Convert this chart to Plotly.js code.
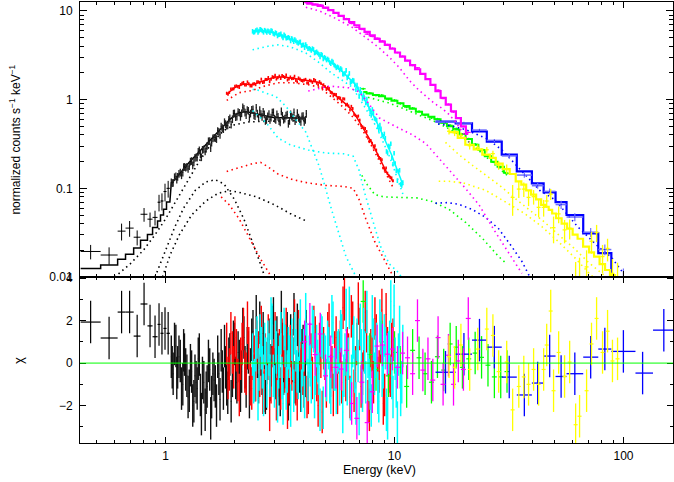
<!DOCTYPE html>
<html><head><meta charset="utf-8">
<script src="https://cdn.plot.ly/plotly-3.0.1.min.js"></script>
<style>html,body{margin:0;padding:0;background:#fff}#chart{width:674px;height:482px}</style>
</head><body><div id="chart"></div>
<script>
// ===== Dataset 1 (black): wide low-energy bins =====
const blackWideLo = [0.426,0.521,0.618,0.669,0.726,0.778,0.834,0.878,0.923,0.951,0.98,1.01];
const blackWideHi = [0.521,0.618,0.669,0.726,0.778,0.834,0.878,0.923,0.951,0.98,1.01,1.045];
const blackWideE = [0.471,0.567,0.643,0.697,0.752,0.806,0.856,0.9,0.937,0.965,0.995,1.027];
const blackWideData = [0.0194,0.0177,0.0329,0.0356,0.0281,0.051,0.0449,0.047,0.0697,0.072,0.092,0.1];
const blackWideErr = [0.0036,0.0039,0.0071,0.0072,0.0054,0.009,0.0084,0.0089,0.0148,0.0157,0.0208,0.0214];
const blackWideModel = [0.0125,0.0137,0.0159,0.0181,0.0212,0.026,0.0302,0.0361,0.0427,0.05,0.058,0.07];
const blackWideResid = [1.93,1.18,2.4,2.4,1.27,2.78,1.75,1.24,1.82,1.4,1.63,1.4];
// black dense bins (two interleaved groups)
const blackE = [1.06,1.08,1.11,1.13,1.16,1.19,1.21,1.24,1.27,1.30,1.33,1.36,1.39,1.42,1.45,1.49,1.52,1.56,1.59,1.63,
1.67,1.71,1.75,1.79,1.83,1.87,1.91,1.96,2.00,2.05,2.10,2.15,2.20,2.25,2.30,2.35,2.41,2.46,2.52,2.58,
2.64,2.70,2.76,2.83,2.89,2.96,3.03,3.10,3.17,3.24,3.32,3.40,3.48,3.56,3.64,3.72,3.81,3.90,3.99,4.08];
const blackData = [.117,.116,.137,.135,.151,.151,.175,.175,.179,.204,.197,.225,.259,.242,.273,.262,.302,.343,.329,.373,
.361,.434,.5,.467,.532,.514,.617,.604,.702,.647,.715,.705,.791,.674,.75,.7,.779,.656,.699,.765,
.642,.687,.593,.689,.631,.723,.596,.643,.558,.661,.613,.683,.578,.648,.722,.605,.63,.564,.655,.594];
const blackModel = [.115,.12,.13,.137,.15,.162,.17,.183,.197,.21,.225,.24,.255,.27,.287,.31,.327,.35,.37,.395,
.42,.45,.48,.51,.54,.57,.6,.63,.66,.69,.71,.725,.73,.73,.725,.715,.705,.695,.685,.675,
.665,.655,.647,.64,.635,.63,.627,.625,.623,.622,.622,.622,.622,.622,.622,.622,.621,.62,.62,.62];
const blackResid = [0.3,-0.5,0.8,-0.2,0.1,-1.0,0.4,-0.6,-1.3,-0.4,-1.8,-0.9,0.2,-1.5,-0.7,-2.2,-1.1,-0.3,-1.6,-0.8,
-2.0,-0.5,0.6,-1.2,-0.2,-1.4,0.4,-0.6,0.9,-0.9,0.1,-0.4,1.2,-1.1,0.5,-0.3,1.5,-0.8,0.3,1.9,
-0.5,0.7,-1.2,1.1,-0.1,2.1,-0.7,0.4,-1.5,0.9,-0.2,1.4,-1.0,0.6,2.3,-0.4,0.2,-1.3,0.8,-0.6];
const blackE2 = [1.07,1.095,1.12,1.145,1.175,1.20,1.225,1.255,1.285,1.315,1.345,1.375,1.405,1.435,1.47,1.505,1.54,1.575,1.61,1.65,
1.69,1.73,1.77,1.81,1.85,1.89,1.935,1.98,2.025,2.075,2.125,2.175,2.225,2.275,2.325,2.38,2.435,2.49,2.55,2.61,
2.67,2.73,2.795,2.86,2.925,2.995,3.065,3.135,3.205,3.28,3.36,3.44,3.52,3.60,3.68,3.765,3.855,3.945,4.035,4.12];
const blackData2 = [.115,.134,.126,.146,.141,.174,.172,.166,.201,.182,.221,.223,.27,.225,.277,.282,.341,.285,.367,.371,
.445,.402,.479,.559,.511,.594,.526,.697,.637,.728,.642,.82,.718,.768,.628,.772,.666,.811,.631,.691,
.734,.578,.653,.596,.718,.613,.686,.574,.741,.597,.662,.537,.687,.627,.577,.71,.6,.65,.565,.694];
const blackResid2 = [-0.2,0.9,-0.7,0.3,-1.2,0.6,-0.3,-1.6,-0.1,-2.0,-0.6,-1.2,0.4,-2.4,-0.9,-1.4,0.1,-2.6,-0.5,-1.1,
0.3,-1.7,-0.4,0.8,-1.0,0.2,-1.8,1.0,-0.7,0.5,-1.3,1.6,-0.2,0.7,-1.6,1.1,-0.6,2.2,-0.9,0.4,
1.4,-1.4,0.2,-0.8,1.7,-0.3,1.2,-1.0,2.4,-0.5,0.8,-1.7,1.3,0.1,-0.9,1.8,-0.4,0.6,-1.1,1.5];
const blackErrPct = 10;
const blackMainE = [0.6,0.7,0.8,0.9,1.0,1.1,1.2,1.4,1.6,1.8,2.0,2.3,2.7,3.2,3.7,4.1];
const blackMain = [0.010,0.014,0.020,0.030,0.045,0.068,0.10,0.20,0.33,0.45,0.52,0.56,0.57,0.575,0.578,0.58];
const blackCompAE = [0.9,1.0,1.1,1.2,1.35,1.5,1.65,1.8,2.0,2.2,2.4,2.6,2.75];
const blackCompA = [0.01,0.02,0.037,0.06,0.095,0.118,0.125,0.112,0.075,0.045,0.025,0.014,0.009];
const blackCompBE = [0.97,1.05,1.15,1.3,1.5,1.7,1.9,2.1,2.5,3.0,3.5,4.1];
const blackCompB = [0.01,0.018,0.03,0.05,0.072,0.088,0.094,0.09,0.08,0.065,0.052,0.043];

// ===== Dataset 2 (red) =====
const redE = [1.85,1.90,1.96,2.01,2.07,2.13,2.19,2.25,2.31,2.38,2.44,2.51,2.58,2.66,2.73,2.81,2.89,2.97,3.05,3.14,
3.23,3.32,3.41,3.51,3.61,3.71,3.81,3.92,4.03,4.15,4.26,4.38,4.51,4.64,4.77,4.90,5.04,5.18,5.33,5.48,
5.64,5.80,5.96,6.13,6.30,6.48,6.66,6.85,7.05,7.25,7.45,7.66,7.88,8.10,8.33,8.57,8.81,9.06,9.32,9.58,9.85];
const redData = [1.181,1.209,1.32,1.419,1.396,1.479,1.562,1.468,1.511,1.427,1.514,1.586,1.552,1.562,1.69,1.777,1.703,1.785,1.708,1.843,
1.87,1.778,1.668,1.802,1.74,1.649,1.756,1.645,1.66,1.542,1.653,1.566,1.647,1.476,1.534,1.47,1.305,1.339,1.193,1.147,
1.025,1.04,1.024,.869,.85,.84,.68,.647,.587,.493,.472,.369,.346,.292,.27,.222,.21,.16,.148,.133,.122];
const redModel = [1.15,1.22,1.30,1.37,1.43,1.47,1.49,1.49,1.48,1.48,1.50,1.54,1.58,1.63,1.67,1.71,1.75,1.78,1.80,1.81,
1.81,1.80,1.78,1.76,1.73,1.70,1.68,1.66,1.64,1.62,1.61,1.60,1.59,1.57,1.52,1.44,1.35,1.27,1.20,1.13,
1.07,1.01,0.95,0.89,0.84,0.78,0.71,0.63,0.56,0.50,0.44,0.39,0.34,0.30,0.26,0.225,0.195,0.168,0.145,0.135,0.118];
const redResid = [0.9,-0.3,0.5,1.2,-0.8,0.2,1.6,-0.5,0.7,-1.2,0.3,1.0,-0.6,-1.4,0.4,1.3,-0.9,0.1,-1.7,0.6,
1.1,-0.4,-2.1,0.8,0.2,-1.0,1.5,-0.3,0.4,-1.6,0.9,-0.7,1.2,-2.0,0.3,0.7,-1.1,1.8,-0.2,0.5,
-1.4,1.0,2.6,-0.8,0.4,2.2,-1.3,0.9,1.6,-0.5,2.4,-1.8,0.6,-0.9,1.3,-0.4,2.5,-1.5,0.7,-0.6,1.1];
const redE2 = [1.875,1.93,1.985,2.04,2.10,2.16,2.22,2.28,2.345,2.41,2.475,2.545,2.62,2.695,2.77,2.85,2.93,3.01,3.095,3.185,
3.275,3.365,3.46,3.56,3.66,3.76,3.865,3.975,4.09,4.205,4.32,4.445,4.575,4.705,4.835,4.97,5.11,5.255,5.405,5.56,
5.72,5.88,6.045,6.215,6.39,6.57,6.755,6.95,7.15,7.35,7.555,7.77,7.99,8.215,8.45,8.69,8.935,9.19,9.45,9.715];
const redData2 = [1.156,1.322,1.326,1.429,1.374,1.527,1.469,1.584,1.428,1.5,1.477,1.587,1.701,1.575,1.69,1.597,1.814,1.878,1.767,1.734,
1.824,1.89,1.714,1.727,1.835,1.589,1.705,1.621,1.693,1.536,1.627,1.69,1.536,1.594,1.361,1.405,1.374,1.209,1.104,1.146,
1.058,.949,1.017,.886,.765,.795,.665,.653,.51,.48,.437,.337,.323,.301,.237,.217,.17,.17,.138,.131];
const redResid2 = [-0.7,1.4,-0.2,0.6,-1.5,0.9,-0.4,1.9,-1.0,0.2,-0.8,0.5,1.7,-1.3,0.0,-2.2,0.8,1.4,-0.6,-1.2,
0.3,1.6,-0.9,-0.3,2.0,-1.7,0.6,-0.5,1.1,-1.4,0.4,1.7,-0.8,0.9,-2.3,0.2,1.4,-0.6,-1.5,1.2,
0.5,-0.9,3.0,0.7,-1.6,1.9,-0.2,2.8,-1.1,0.6,1.5,-2.2,0.3,2.1,-0.7,1.0,-1.9,2.3,-0.4,0.9];
const redErrPct = 4;
const redC1E = [1.85,2.1,2.4,2.7,3.1,3.6,4.2,4.7,5.2,5.8,6.5,7.2,8.0,8.8,9.9];
const redC1 = [0.98,1.2,1.27,1.42,1.55,1.55,1.47,1.38,1.12,0.88,0.66,0.47,0.29,0.18,0.1];
const redC2E = [1.85,2.1,2.4,2.6,2.8,3.1,3.6,4.2,5.0,6.0,6.6,7.0,7.5,8.2,9.0,9.9];
const redC2 = [0.155,0.17,0.19,0.196,0.175,0.145,0.125,0.115,0.108,0.105,0.1,0.075,0.045,0.025,0.016,0.01];
const redC3E = [1.75,1.9,2.1,2.35,2.6,2.9];
const redC3 = [0.08,0.065,0.045,0.026,0.016,0.01];

// ===== Dataset 3 (green) =====
const greenE = [7.3,7.8,8.3,8.8,9.4,10.0,10.6,11.3,12.0,12.8,13.6,14.5,15.4,16.4,17.5,18.6,19.8,21.1,22.5,24.0,25.6,27.3,29.1,31.0];
const greenData = [1.326,1.184,1.12,1.123,1.011,.985,.905,.822,.804,.735,.67,.623,.605,.545,.514,.47,.408,.362,.314,.272,.229,.196,.172,.148];
const greenModel = [1.22,1.17,1.13,1.09,1.03,0.97,0.91,0.85,0.79,0.73,0.68,0.64,0.60,0.55,0.50,0.46,0.41,0.36,0.31,0.27,0.23,0.20,0.175,0.15];
const greenResid = [2.9,0.4,-0.3,1.0,-0.6,0.5,-0.2,-1.1,0.6,0.25,-0.5,-0.9,0.3,-0.33,0.9,0.75,-0.2,0.2,0.47,0.27,-0.1,-0.65,-0.65,-0.4];
const greenErrPct = 3;
const greenC1E = [7.3,8.3,9.4,10.6,12.0,13.6,15.4,17.5,19.8,22.5,25.6,29.1,31.0];
const greenC1 = [1.1,1.0,0.92,0.82,0.72,0.62,0.55,0.46,0.38,0.29,0.215,0.16,0.14];
const greenC2E = [7.2,7.6,8.2,9.0,10.5,12.5,14.6,17.3,20.5,24.3,28.5,31.0];
const greenC2 = [0.14,0.11,0.085,0.08,0.079,0.078,0.071,0.058,0.041,0.027,0.017,0.014];

// ===== Dataset 4 (blue) =====
const blueLo = [15.1,18.5,21.8,25.3,29.4,34.2,39.8,44.8,50.5,56.4,66.7,77.6,88.5,112.8,134.6];
const blueHi = [18.5,21.8,25.3,29.4,34.2,39.8,44.8,50.5,56.4,66.7,77.6,88.5,112.8,134.6,167];
const blueE = [16.7,20.1,23.5,27.3,31.7,36.9,42.2,47.6,53.4,61.3,71.9,82.9,99.9,121.2,150];
const blueData = [0.559,0.547,0.454,0.347,0.232,0.141,0.107,0.0924,0.0656,0.0475,0.032,0.0204,0.0099,0.0037,0.0039];
const blueErr = [0.017,0.016,0.015,0.0135,0.012,0.0093,0.008,0.0072,0.007,0.005,0.0037,0.0028,0.0026,0.0018,0.0011];
const blueModel = [0.566,0.54,0.437,0.337,0.24,0.155,0.114,0.09,0.07,0.05,0.031,0.0186,0.0085,0.0045,0.0022];
const blueResid = [-0.43,0.42,1.08,0.75,-0.66,-1.5,-0.94,0.33,-0.63,-0.5,0.28,0.66,0.55,-0.47,1.55];
const blueC1E = [15.5,17,20.4,25.5,29.5,33.2,38.3,43.4,50,55.5,63,77.6,88.5,100];
const blueC1 = [0.53,0.52,0.46,0.36,0.27,0.196,0.133,0.093,0.075,0.054,0.037,0.022,0.0167,0.011];
const blueC2E = [15.1,17,19.1,21.8,25,28.5,32.5,36,39];
const blueC2 = [0.068,0.069,0.066,0.058,0.047,0.035,0.022,0.015,0.01];

// ===== Dataset 5 (cyan) =====
const cyanE = [2.40,2.45,2.51,2.56,2.62,2.68,2.74,2.80,2.86,2.92,2.99,3.05,3.12,3.19,3.26,3.33,3.40,3.48,3.56,3.63,
3.71,3.80,3.88,3.97,4.05,4.14,4.24,4.33,4.43,4.52,4.62,4.73,4.83,4.94,5.05,5.16,5.27,5.39,5.51,5.63,
5.76,5.88,6.01,6.15,6.28,6.42,6.57,6.71,6.86,7.01,7.17,7.33,7.49,7.66,7.83,8.00,8.18,8.36,8.54,8.73,
8.93,9.12,9.33,9.53,9.74,9.96,10.18,10.41,10.64,10.87];
const cyanData = [5.91,5.80,6.15,5.96,6.11,5.75,5.95,6.0,5.69,5.96,5.47,5.6,5.4,5.52,4.98,5.23,4.98,4.94,4.91,4.51,
4.61,4.32,4.49,4.14,3.86,3.99,3.81,3.59,3.69,3.41,3.36,3.04,3.19,3.01,2.80,2.80,2.55,2.65,2.40,2.35,
2.16,2.18,1.94,2.14,1.82,1.56,1.66,1.47,1.46,1.11,1.18,1.13,.917,.883,.733,.777,.614,.585,.455,.471,
.386,.367,.25,.294,.22,.249,.158,.155,.111,.116];
const cyanModel = [5.85,5.92,5.97,6.0,6.0,5.97,5.92,5.85,5.78,5.7,5.62,5.53,5.43,5.33,5.23,5.13,5.03,4.9,4.78,4.66,
4.54,4.4,4.28,4.15,4.02,3.9,3.78,3.67,3.56,3.45,3.35,3.22,3.1,2.98,2.86,2.75,2.64,2.53,2.42,2.32,
2.22,2.11,2.0,1.9,1.8,1.7,1.6,1.5,1.38,1.26,1.15,1.05,0.96,0.87,0.78,0.70,0.63,0.56,0.5,0.44,
0.39,0.345,0.305,0.27,0.235,0.2,0.175,0.15,0.128,0.108];
const cyanResid = [0.4,-0.8,1.2,-0.3,0.7,-1.5,0.2,1.0,-0.6,1.8,-1.1,0.5,-0.2,1.4,-1.9,0.8,-0.4,0.3,1.1,-1.3,
0.6,-0.7,2.0,-0.1,-1.6,0.9,0.3,-0.9,1.5,-0.5,0.1,-2.2,1.2,0.4,-0.8,0.7,-1.4,1.9,-0.3,0.5,
-1.0,1.3,-0.6,2.5,0.2,-1.7,0.8,-0.4,1.1,-2.4,0.6,1.6,-0.9,0.3,-1.2,2.2,-0.5,0.9,-1.8,1.4,
-0.2,0.7,-2.6,1.0,-0.7,2.7,-1.1,0.4,-1.5,0.8];
const cyanE2 = [2.425,2.48,2.535,2.59,2.65,2.71,2.77,2.83,2.89,2.955,3.02,3.085,3.155,3.225,3.295,3.365,3.44,3.52,3.595,3.67,
3.755,3.84,3.925,4.01,4.095,4.19,4.285,4.38,4.475,4.57,4.675,4.78,4.885,4.995,5.105,5.215,5.33,5.45,5.57,5.695,
5.82,5.945,6.08,6.215,6.35,6.495,6.64,6.785,6.935,7.09,7.25,7.41,7.575,7.745,7.915,8.09,8.27,8.45,8.635,8.83,
9.025,9.225,9.43,9.635,9.85,10.07,10.295,10.525,10.755];
const cyanData2 = [5.75,6.03,5.73,6.2,5.96,6.08,5.72,5.87,6.04,5.58,5.71,5.23,5.42,5.19,5.39,4.93,5.05,4.6,4.74,4.76,
4.43,4.46,4.08,4.15,4.19,3.76,3.72,3.77,3.36,3.47,3.24,3.26,2.88,2.94,2.88,2.63,2.73,2.46,2.29,2.30,
2.25,1.94,1.99,1.76,1.98,1.60,1.64,1.30,1.33,1.31,1.03,1.03,1.02,.792,.666,.702,.604,.493,.517,.403,
.411,.261,.301,.319,.187,.191,.122,.16,.108];
const cyanResid2 = [-0.9,0.6,-1.7,1.3,-0.2,0.9,-1.1,0.4,2.1,-0.6,1.0,-1.8,0.3,-0.7,1.6,-1.2,0.7,-2.0,0.2,1.4,
-0.4,1.1,-1.3,0.6,2.3,-0.8,-0.1,1.7,-1.6,0.8,-0.5,1.3,-2.1,0.3,1.0,-0.9,2.2,-0.3,-1.4,0.6,
1.5,-2.3,0.4,-1.0,2.6,-0.6,1.2,-1.9,0.1,1.8,-1.3,0.5,2.4,-0.8,-2.0,1.1,0.3,-1.4,2.0,-0.6,
1.3,-2.2,0.5,2.9,-1.6,0.2,-2.8,1.7,-0.9];
const cyanErrPct = 6;
const cyanC1E = [2.4,2.8,3.1,3.5,4.1,4.7,5.3,6.0,6.5,7.0,7.5,8.0,8.5,9.0,9.5,10.0,10.9];
const cyanC1 = [3.65,4.0,4.15,3.95,3.35,2.6,2.0,1.6,1.4,1.05,0.8,0.6,0.44,0.32,0.23,0.16,0.085];
const cyanC2E = [2.4,2.49,3.04,3.37,3.7,4.1,4.69,5.35,6.14,6.8];
const cyanC2 = [1.3,1.3,1.08,0.83,0.6,0.43,0.177,0.054,0.017,0.01];
const cyanC3E = [2.4,2.75,3.1,3.5,4.2,5.0,6.0,6.6,7.0,7.4,8.0,8.7,9.5,10.5,10.9];
const cyanC3 = [0.75,0.55,0.37,0.31,0.27,0.25,0.245,0.23,0.16,0.09,0.045,0.022,0.014,0.011,0.009];

// ===== Dataset 6 (magenta) =====
const magE = [4.05,4.27,4.50,4.74,5.0,5.27,5.55,5.85,6.17,6.5,6.85,7.2,7.6,8.0,8.4,8.85,9.3,9.8,10.3,10.85,
11.4,12.0,12.6,13.3,14.0,14.7,15.5,16.3,17.2,18.1,19.0,20.0,21.0];
const magData = [12.75,12.54,11.89,11.71,10.77,10.26,9.46,8.75,8.2,7.22,6.54,6.19,5.48,5.16,4.93,4.58,4.18,3.8,3.39,3.08,
2.76,2.43,2.29,1.94,1.71,1.45,1.28,1.03,.886,.725,.621,.497,.427];
const magModel = [12.5,12.1,11.8,11.4,10.9,10.2,9.5,8.8,8.1,7.5,6.9,6.3,5.8,5.3,4.85,4.5,4.15,3.75,3.4,3.05,
2.75,2.45,2.2,1.95,1.7,1.47,1.25,1.05,0.88,0.74,0.62,0.5,0.41];
const magResid = [1.0,1.83,0.4,1.37,-0.6,0.3,-0.2,-0.28,0.6,-1.9,-2.6,-0.9,-2.8,-1.35,0.8,0.85,0.42,0.66,-0.2,0.47,
0.25,-0.5,2.0,-0.33,0.2,-0.8,1.2,-1.0,0.37,-1.0,0.1,-0.3,2.1];
const magErrPct = 2;
const magC1E = [4.1,4.7,5.5,6.5,7.5,8.5,9.5,10.5,11.6,12.7,13.7,15.0,16.1,17.3,18.5,19.5,20.4,21.2];
const magC1 = [11.0,10.0,8.3,6.6,5.0,3.9,3.0,2.3,1.65,1.3,1.1,0.9,0.8,0.68,0.56,0.46,0.39,0.33];
const magC2E = [4.2,5.2,6.3,7.0,7.6,8.6,10.4,12.0,13.7,15.6,17.8,20.4,23.4,27,31,36];
const magC2 = [1.25,1.42,1.36,1.23,0.95,0.62,0.48,0.4,0.32,0.22,0.15,0.1,0.065,0.035,0.02,0.011];

// ===== Dataset 7 (yellow) =====
const yelE = [17.3,18.3,19.5,21.3,23.1,25.3,26.9,28.5,30.9,32.8,34.9,36.7,38.5,40.5,42.6,44.8,46.2,48.1,49.5,52.1,
55.3,58.2,61.8,64.3,69.0,72.5,76.3,81.0,85.2,89.5,94.2];
const yelData = [0.44,0.423,0.395,0.302,0.29,0.272,0.246,0.182,0.166,0.079,0.098,0.098,0.079,0.0805,0.061,0.061,0.072,0.086,0.036,0.0515,
0.034,0.0355,0.0068,0.0095,0.013,0.0253,0.0317,0.017,0.021,0.011,0.0095];
const yelErr = [0.035,0.035,0.03,0.028,0.025,0.02,0.02,0.02,0.02,0.03,0.02,0.018,0.016,0.015,0.014,0.013,0.012,0.012,0.012,0.011,
0.01,0.009,0.008,0.007,0.007,0.007,0.007,0.006,0.006,0.005,0.005];
const yelModel = [0.43,0.43,0.37,0.31,0.275,0.24,0.22,0.19,0.165,0.145,0.12,0.11,0.095,0.085,0.075,0.065,0.062,0.057,0.052,0.046,
0.04,0.035,0.03,0.027,0.022,0.019,0.017,0.014,0.012,0.0105,0.0085];
const yelResid = [0.3,-0.2,0.85,-0.3,0.66,1.6,1.3,-0.4,0.05,-2.2,-1.1,-0.65,-1.0,-0.3,-1.0,-0.3,0.85,2.45,-1.3,0.5,
-0.63,0.05,-2.9,-2.5,-1.3,0.9,2.1,0.5,1.5,0.1,0.2];
const yelC1E = [16.7,19.1,22,25,28.5,33,38.5,45,52,61,70,80,86];
const yelC1 = [0.33,0.24,0.18,0.14,0.11,0.08,0.058,0.042,0.03,0.021,0.0148,0.011,0.0095];
const yelC2E = [15.6,17.3,20,25,30,37,44,52,62,72,76];
const yelC2 = [0.12,0.12,0.115,0.095,0.072,0.052,0.037,0.025,0.016,0.0105,0.0095];

// ===== axis labels =====
const yTopTicks = [0.01,0.1,1,10];
const yTopText = ['0.01','0.1','1','10'];
const xTicks = [1,10,100];
const xTickText = ['1','10','100'];
const yResTicks = [-2,0,2,4];
const yResMinor = [-3,-1,1,3];

// ===== build =====
const COL = {black:'#000000', red:'#ff0000', green:'#00ff00', blue:'#0000ff', cyan:'#00ffff', magenta:'#ff00ff', yellow:'#ffff00'};
const traces = [];
const DOT = '1.5px,3.5px';
function comp(x, y, color){ traces.push({x, y, xaxis:'x', yaxis:'y', mode:'lines', line:{color, width:1.6, dash:DOT}, hoverinfo:'skip'}); }
function modelLine(x, y, color, shape, width){ traces.push({x, y, xaxis:'x', yaxis:'y', mode:'lines', line:{color, width, shape}, hoverinfo:'skip'}); }
function dataPts(x, y, ey, ex, color){ traces.push({x, y, xaxis:'x', yaxis:'y', mode:'markers', marker:{size:1, color}, error_y:ey, error_x:ex, hoverinfo:'skip'}); }
function residPts(x, r, ex, color, th){ traces.push({x, y:r, xaxis:'x2', yaxis:'y2', mode:'markers', marker:{size:1, color},
  error_y:{type:'constant', value:1, color, thickness:th || 1.3, width:0}, error_x:ex, hoverinfo:'skip'}); }
function steps(lo, hi, v){ const x=[], y=[]; lo.forEach((l,i)=>{ x.push(l, hi[i]); y.push(v[i], v[i]); }); return {x, y}; }
function edgeErr(x, lo, hi, color, th){ return {type:'data', symmetric:false, array:x.map((e,i)=>hi[i]-e), arrayminus:x.map((e,i)=>e-lo[i]), color, thickness:th, width:0}; }
function pctErr(p, color, th){ return {type:'percent', value:p, color, thickness:th, width:0}; }
function absErr(a, color, th){ return {type:'data', array:a, color, thickness:th, width:0}; }

// black
comp(blackMainE, blackMain, COL.black);
comp(blackCompAE, blackCompA, COL.black);
comp(blackCompBE, blackCompB, COL.black);
const bw = steps(blackWideLo, blackWideHi, blackWideModel);
modelLine(bw.x.concat(blackE), bw.y.concat(blackModel), COL.black, 'linear', 1.5);
dataPts(blackWideE, blackWideData, absErr(blackWideErr, COL.black, 1), edgeErr(blackWideE, blackWideLo, blackWideHi, COL.black, 1), COL.black);
dataPts(blackE.concat(blackE2), blackData.concat(blackData2), pctErr(blackErrPct, '#222', 1.3), undefined, COL.black);
residPts(blackWideE, blackWideResid, edgeErr(blackWideE, blackWideLo, blackWideHi, COL.black, 1.2), COL.black, 1.2);
residPts(blackE.concat(blackE2), blackResid.concat(blackResid2), undefined, '#111', 1.4);
// red
comp(redC1E, redC1, COL.red); comp(redC2E, redC2, COL.red); comp(redC3E, redC3, COL.red);
modelLine(redE, redModel, COL.red, 'linear', 1.5);
dataPts(redE.concat(redE2), redData.concat(redData2), pctErr(redErrPct, COL.red, 1.6), undefined, COL.red);
residPts(redE.concat(redE2), redResid.concat(redResid2), undefined, COL.red, 1.4);
// green
comp(greenC1E, greenC1, COL.green); comp(greenC2E, greenC2, COL.green);
modelLine(greenE, greenModel, COL.green, 'hvh', 2);
dataPts(greenE, greenData, pctErr(greenErrPct, COL.green, 1.2), pctErr(2.5, COL.green, 1.2), COL.green);
residPts(greenE, greenResid, pctErr(2.5, COL.green, 1.2), COL.green, 1.3);
// blue
comp(blueC1E, blueC1, COL.blue); comp(blueC2E, blueC2, COL.blue);
const bs = steps(blueLo, blueHi, blueModel);
modelLine(bs.x, bs.y, COL.blue, 'linear', 2.2);
dataPts(blueE, blueData, absErr(blueErr, '#6f6fff', 1.2), edgeErr(blueE, blueLo, blueHi, '#6f6fff', 1.5), COL.blue);
residPts(blueE, blueResid, edgeErr(blueE, blueLo, blueHi, COL.blue, 1.3), COL.blue, 1.3);
// cyan
comp(cyanC1E, cyanC1, COL.cyan); comp(cyanC2E, cyanC2, COL.cyan); comp(cyanC3E, cyanC3, COL.cyan);
modelLine(cyanE, cyanModel, COL.cyan, 'linear', 1.5);
dataPts(cyanE.concat(cyanE2), cyanData.concat(cyanData2), pctErr(cyanErrPct, COL.cyan, 1.6), undefined, COL.cyan);
residPts(cyanE.concat(cyanE2), cyanResid.concat(cyanResid2), undefined, COL.cyan, 1.5);
// magenta
comp(magC1E, magC1, COL.magenta); comp(magC2E, magC2, COL.magenta);
modelLine(magE, magModel, COL.magenta, 'hvh', 2.2);
dataPts(magE, magData, pctErr(magErrPct, COL.magenta, 1.2), pctErr(2.5, COL.magenta, 1.2), COL.magenta);
residPts(magE, magResid, pctErr(2.5, COL.magenta, 1.2), COL.magenta, 1.3);
// yellow
comp(yelC1E, yelC1, COL.yellow); comp(yelC2E, yelC2, COL.yellow);
modelLine(yelE, yelModel, COL.yellow, 'hvh', 2.2);
dataPts(yelE, yelData, absErr(yelErr, COL.yellow, 1.3), pctErr(2, COL.yellow, 1.3), COL.yellow);
residPts(yelE, yelResid, pctErr(2, COL.yellow, 1.2), COL.yellow, 1.3);

// minor tick positions
const minorX = [], minorYTop = [];
[0.1,1,10,100].forEach(d=>{ for(let k=2;k<=9;k++) minorX.push(k*d); });
[0.01,0.1,1].forEach(d=>{ for(let k=2;k<=9;k++) minorYTop.push(k*d); });

const XR = [-0.3734, 2.2162];
const axBase = {showline:true, linecolor:'#000', linewidth:1, mirror:'allticks', ticks:'inside', tickcolor:'#000', tickwidth:1, showgrid:false, zeroline:false};
const FONT = '"Liberation Sans", Arial, Helvetica, sans-serif';
const split = 0.3764;
const layout = {
  width:674, height:482, margin:{l:80, r:1, t:2, b:39},
  paper_bgcolor:'#fff', plot_bgcolor:'#fff', showlegend:false,
  font:{family:FONT, size:12, color:'#000'},
  xaxis:Object.assign({}, axBase, {type:'log', range:XR, domain:[0,1], anchor:'y', tickmode:'array', tickvals:xTicks, showticklabels:false, ticklen:6,
    minor:{tickmode:'array', tickvals:minorX, ticks:'inside', ticklen:3, tickcolor:'#000', showgrid:false}}),
  yaxis:Object.assign({}, axBase, {type:'log', range:[-2, 1.101], domain:[split,1], anchor:'x', tickmode:'array', tickvals:yTopTicks, ticktext:yTopText, ticklen:7, ticklabelstandoff:4,
    minor:{tickmode:'array', tickvals:minorYTop, ticks:'inside', ticklen:4, tickcolor:'#000', showgrid:false}}),
  xaxis2:Object.assign({}, axBase, {type:'log', range:XR, domain:[0,1], anchor:'y2', tickmode:'array', tickvals:xTicks, ticktext:xTickText, ticklen:6, ticklabelstandoff:2,
    minor:{tickmode:'array', tickvals:minorX, ticks:'inside', ticklen:3, tickcolor:'#000', showgrid:false}}),
  yaxis2:Object.assign({}, axBase, {range:[-3.76, 4.05], domain:[0,split], anchor:'x2', tickmode:'array', tickvals:yResTicks, ticktext:yResTicks.map(v=>v<0?'−'+Math.abs(v):String(v)), ticklen:6, ticklabelstandoff:4,
    minor:{tickmode:'array', tickvals:yResMinor, ticks:'inside', ticklen:3, tickcolor:'#000', showgrid:false}}),
  shapes:[{type:'line', xref:'x2 domain', x0:0, x1:1, yref:'y2', y0:0, y1:0, line:{color:'#00ff00', width:1}, layer:'above'}],
  annotations:[
    {text:'normalized counts s<sup>−1</sup> keV<sup>−1</sup>', xref:'paper', yref:'paper', x:-0.1096, y:0.688, xanchor:'center', yanchor:'middle', textangle:-90, showarrow:false, font:{family:FONT, size:12}},
    {text:'χ', xref:'paper', yref:'paper', x:-0.1046, y:0.188, xanchor:'center', yanchor:'middle', textangle:-90, showarrow:false, font:{family:FONT, size:13}},
    {text:'Energy (keV)', xref:'paper', yref:'paper', x:0.505, y:-0.0612, xanchor:'center', yanchor:'middle', showarrow:false, font:{family:FONT, size:12.5}}
  ]
};
Plotly.newPlot('chart', traces, layout, {staticPlot:true, displayModeBar:false});
</script></body></html>
